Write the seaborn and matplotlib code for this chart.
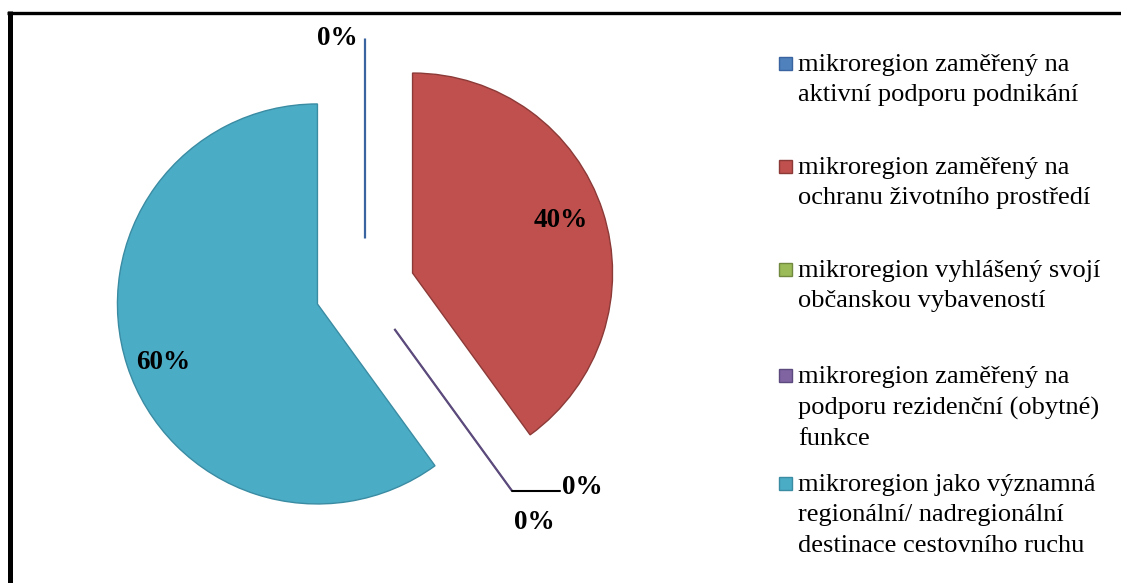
import numpy as np
import matplotlib
matplotlib.use('Agg')
import matplotlib.pyplot as plt
from matplotlib.lines import Line2D
from matplotlib.patches import Rectangle
import seaborn as sns

# Data
categories = [
    'mikroregion zaměřený na\naktivní podporu podnikání',
    'mikroregion zaměřený na\nochranu životního prostředí',
    'mikroregion vyhlášený svojí\nobčanskou vybaveností',
    'mikroregion zaměřený na\npodporu rezidenční (obytné)\nfunkce',
    'mikroregion jako významná\nregionální/ nadregionální\ndestinace cestovního ruchu',
]
shares = [0, 40, 0, 0, 60]

fill_colors = ['#4F81BD', '#C0504D', '#9BBB59', '#8064A2', '#4BACC6']
edge_colors = ['#3A64A0', '#8C3A38', '#71893F', '#5C4A7E', '#3A8CA3']

sns.set_theme(style='white')
plt.rcParams['font.family'] = ['Liberation Serif', 'DejaVu Serif']

W, H = 1121, 583
fig = plt.figure(figsize=(W / 100, H / 100), dpi=100)
ax = fig.add_axes([0, 0, 1, 1])

explode = [0.25] * len(shares)
wedges, _ = ax.pie(shares, colors=fill_colors, explode=explode, startangle=90,
                   counterclock=False, radius=1.0, normalize=True,
                   wedgeprops=dict(linewidth=1.0))
for w, ec in zip(wedges, edge_colors):
    w.set_edgecolor(ec)
for i in (0, 3):
    wedges[i].set_linewidth(1.6)

# pie centre in pixels and radius in pixels (1 data unit = radius)
cx, cy, rpx = 365, 288.5, 200
ax.set_aspect('auto')
ax.set_xlim(-cx / rpx, (W - cx) / rpx)
ax.set_ylim(-(H - cy) / rpx, cy / rpx)
ax.set_axis_off()

label_font = dict(fontsize=19.5, fontweight='bold', color='black')


def mid_angle(w):
    return np.deg2rad((w.theta1 + w.theta2) / 2)


# big slices: labels inside
for i, dist, dy in ((1, 0.78, 3), (4, 0.81, -6)):
    w = wedges[i]
    a = mid_angle(w)
    pos = (w.center[0] + dist * np.cos(a), w.center[1] + dist * np.sin(a))
    ax.annotate(f'{shares[i]}%', pos, xytext=(0, dy), textcoords='offset points',
                ha='center', va='center', **label_font)

# zero slice at top
w = wedges[0]
a = mid_angle(w)
tip = (w.center[0] + np.cos(a), w.center[1] + np.sin(a))
ax.annotate(f'{shares[0]}%', tip, xytext=(-20, 0), textcoords='offset points',
            ha='center', va='center', **label_font)

# zero slices at lower right
w = wedges[3]
a = mid_angle(w)
tip = (w.center[0] + np.cos(a), w.center[1] + np.sin(a))
ax.plot([tip[0], tip[0] + 0.24], [tip[1], tip[1]], color='black', lw=1.5)
ax.annotate(f'{shares[3]}%', tip, xytext=(36, 2), textcoords='offset points',
            ha='left', va='center', **label_font)
ax.annotate(f'{shares[2]}%', tip, xytext=(16, -23), textcoords='offset points',
            ha='center', va='center', **label_font)

# legend
baselines = [71, 174, 277, 383, 491]
for lab, fc, ec, b in zip(categories, fill_colors, edge_colors, baselines):
    fig.add_artist(Rectangle((779 / W, 1 - (b - 1) / H), 13 / W, 13 / H,
                             transform=fig.transFigure, facecolor=fc,
                             edgecolor=ec, linewidth=1.0))
    fig.text(798 / W, 1 - (b - 17) / H, lab, ha='left', va='top',
             fontsize=19, color='black', linespacing=1.5)

# chart frame (only left and top visible)
fig.add_artist(Line2D([9.5 / W, 9.5 / W], [0, 1 - 11 / H], color='black',
                      lw=3.6, transform=fig.transFigure, solid_capstyle='butt'))
fig.add_artist(Line2D([7 / W, 1], [1 - 12.5 / H, 1 - 12.5 / H], color='black',
                      lw=2.4, transform=fig.transFigure, solid_capstyle='butt'))

fig.savefig('out.png', dpi=100)
